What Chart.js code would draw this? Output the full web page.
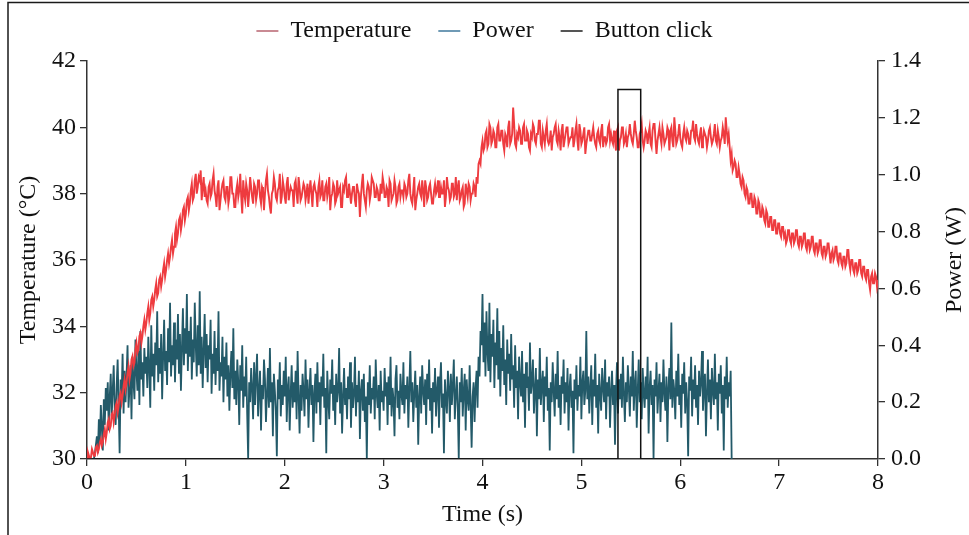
<!DOCTYPE html>
<html>
<head>
<meta charset="utf-8">
<script src="https://cdn.jsdelivr.net/npm/chart.js@4.4.1/dist/chart.umd.min.js"></script>
<style>
  html, body { margin: 0; padding: 0; background: #fff; }
  #wrap { width: 969px; height: 535px; position: relative; }
</style>
</head>
<body>
<div id="wrap"><canvas id="c" width="969" height="535"></canvas></div>
<script>
// ---- Data ----
const SAMPLE_STEP = 0.01; // seconds between samples

// Temperature (°C), one row = 0.1 s, from 0 to 8 s
const temperatureC = [
  30.0, 30.2, 30.1, 29.9, 30.05, 30.3, 30.2, 30.1, 30.1, 30.35,
  30.4, 30.2, 30.3, 30.5, 30.6, 30.4, 30.5, 30.75, 30.9, 30.6,
  30.8, 31.1, 31.2, 30.9, 31.0, 31.35, 31.4, 31.1, 31.3, 31.6,
  31.7, 31.4, 31.6, 31.9, 32.0, 31.7, 31.9, 32.2, 32.4, 32.1,
  32.3, 32.6, 32.8, 32.4, 32.6, 33.0, 33.1, 32.8, 32.9, 33.3,
  33.5, 33.2, 33.3, 33.7, 33.8, 33.5, 33.7, 34.0, 34.2, 33.9,
  34.1, 34.4, 34.6, 34.2, 34.4, 34.8, 34.9, 34.6, 34.8, 35.1,
  35.3, 34.9, 35.0, 35.4, 35.5, 35.2, 35.4, 35.7, 35.9, 35.5,
  35.7, 36.0, 36.2, 35.9, 36.1, 36.4, 36.6, 36.2, 36.4, 36.8,
  37.0, 36.6, 36.8, 37.2, 37.3, 36.9, 37.1, 37.5, 37.6, 37.2,
  37.4, 37.8, 37.9, 37.5, 37.7, 38.1, 38.3, 37.8, 37.9, 38.4,
  38.6, 38.0, 38.2, 38.5, 38.4, 38.7, 37.8, 38.2, 38.5, 37.9,
  38.1, 37.8, 37.7, 38.2, 38.3, 37.9, 38.0, 38.4, 38.6, 38.1,
  37.9, 37.6, 38.2, 38.4, 37.5, 37.8, 38.1, 38.3, 38.4, 37.9,
  37.8, 38.2, 38.2, 37.7, 37.9, 38.5, 38.5, 38.0, 38.0, 37.6,
  37.6, 38.1, 38.3, 37.9, 38.1, 38.6, 37.9, 37.4, 38.4, 38.0,
  37.8, 38.3, 38.1, 37.6, 38.0, 38.5, 38.2, 37.9, 37.7, 38.3,
  38.2, 37.8, 38.0, 38.4, 38.4, 37.9, 37.7, 38.2, 38.1, 37.5,
  38.0, 38.4, 38.6, 38.1, 37.9, 37.6, 37.4, 38.0, 38.1, 38.5,
  38.3, 37.9, 37.8, 38.1, 38.2, 38.6, 37.7, 37.9, 38.4, 38.2,
  37.9, 37.7, 38.3, 38.5, 37.8, 38.0, 38.2, 38.1, 38.1, 37.6,
  38.3, 38.4, 38.0, 37.7, 38.5, 38.2, 37.8, 37.9, 38.1, 38.3,
  38.2, 37.8, 38.0, 38.3, 37.7, 38.1, 38.4, 38.0, 37.6, 38.2,
  38.3, 38.1, 38.0, 37.6, 38.2, 38.4, 37.9, 38.0, 38.4, 37.8,
  37.8, 38.2, 38.3, 37.9, 38.1, 38.5, 37.5, 37.9, 38.0, 38.3,
  38.2, 37.7, 37.8, 38.4, 38.0, 38.1, 38.2, 37.6, 37.6, 38.2,
  38.1, 38.4, 38.5, 37.9, 37.9, 38.3, 38.0, 37.7, 38.0, 38.2,
  38.2, 37.8, 37.6, 38.3, 38.1, 38.0, 37.3, 37.9, 38.3, 38.6,
  38.0, 37.8, 37.6, 38.1, 38.3, 38.2, 37.8, 38.0, 38.5, 38.4,
  38.3, 37.9, 37.9, 38.2, 38.1, 37.8, 37.8, 38.3, 38.0, 38.5,
  38.3, 37.9, 37.9, 38.2, 38.1, 37.6, 38.4, 38.3, 37.8, 37.9,
  38.0, 38.4, 38.2, 37.7, 37.8, 38.2, 38.3, 37.9, 38.1, 38.1,
  37.9, 38.3, 38.2, 37.9, 38.0, 38.4, 38.6, 38.0, 37.8, 37.7,
  38.1, 38.5, 37.5, 37.8, 38.0, 38.2, 38.3, 38.0, 37.9, 38.4,
  38.1, 37.6, 38.4, 38.2, 37.8, 37.9, 38.2, 38.3, 38.0, 37.7,
  37.7, 38.1, 38.3, 38.0, 38.1, 38.4, 37.9, 37.9, 38.2, 38.0,
  38.0, 38.4, 37.6, 37.9, 38.5, 38.2, 38.1, 37.8, 37.9, 38.3,
  38.3, 37.9, 38.0, 38.5, 37.8, 38.2, 38.4, 37.8, 37.9, 38.1,
  38.2, 37.6, 37.7, 38.3, 38.1, 37.9, 38.3, 38.2, 37.8, 38.0,
  38.0, 38.3, 38.2, 37.9, 38.5, 38.3, 38.9, 39.0, 38.9, 39.4,
  39.6, 39.3, 39.4, 39.8, 39.9, 39.4, 39.5, 40.1, 40.0, 39.5,
  39.6, 39.9, 39.8, 39.4, 39.4, 40.0, 40.1, 39.6, 39.6, 39.9,
  39.9, 39.5, 39.3, 39.8, 39.7, 39.4, 40.0, 40.2, 39.5, 39.6,
  39.8, 40.6, 40.1, 39.5, 39.4, 39.8, 39.7, 40.0, 39.9, 39.5,
  39.5, 40.0, 40.1, 39.6, 39.6, 39.9, 39.8, 39.4, 39.3, 39.8,
  39.7, 40.1, 40.0, 39.6, 39.5, 39.8, 39.8, 40.2, 40.2, 39.5,
  39.4, 39.9, 39.7, 39.5, 39.9, 40.1, 39.6, 39.5, 39.6, 39.9,
  39.3, 39.7, 39.8, 40.0, 40.1, 39.6, 39.5, 39.9, 39.7, 39.3,
  39.9, 40.1, 39.4, 39.6, 39.8, 40.0, 40.0, 39.5, 39.6, 39.7,
  39.7, 40.0, 39.4, 39.6, 39.9, 40.1, 39.6, 39.3, 40.1, 39.9,
  39.5, 39.6, 39.8, 40.0, 39.2, 39.5, 39.7, 39.9, 39.9, 39.6,
  39.6, 39.8, 40.0, 39.7, 39.5, 39.4, 39.8, 39.9, 39.6, 39.5,
  39.9, 40.1, 39.4, 39.7, 39.7, 39.5, 39.6, 40.0, 40.1, 39.6,
  39.8, 39.6, 39.5, 39.9, 39.6, 39.3, 39.9, 40.0, 39.3, 39.6,
  39.7, 40.0, 40.0, 39.5, 39.6, 39.8, 39.4, 39.7, 39.8, 40.1,
  39.8, 39.6, 39.5, 39.8, 40.2, 39.9, 39.7, 39.4, 39.4, 39.8,
  39.9, 40.1, 39.6, 39.4, 39.6, 39.9, 39.8, 39.5, 39.8, 40.0,
  39.5, 39.4, 39.9, 40.1, 40.1, 39.6, 39.2, 39.6, 39.8, 40.0,
  39.7, 39.5, 40.0, 39.8, 39.5, 39.6, 39.7, 40.0, 39.9, 39.3,
  39.9, 40.0, 39.6, 39.4, 40.3, 39.9, 39.5, 39.6, 39.8, 40.1,
  39.7, 39.5, 39.4, 39.8, 40.0, 39.7, 39.6, 39.9, 39.8, 39.5,
  39.5, 39.9, 39.9, 40.2, 39.7, 39.6, 40.1, 39.8, 39.6, 39.5,
  39.8, 40.0, 39.4, 39.6, 39.9, 39.8, 39.7, 39.4, 39.6, 39.9,
  40.0, 39.7, 39.5, 39.6, 39.8, 40.1, 39.6, 39.5, 39.9, 39.7,
  39.4, 39.6, 39.7, 40.0, 39.8, 39.5, 40.3, 39.9, 39.6, 39.8,
  39.4, 39.0, 39.2, 38.7, 38.8, 39.0, 38.9, 38.5, 38.5, 38.8,
  38.6, 38.3, 38.2, 38.5, 38.4, 38.0, 37.9, 38.2, 38.1, 37.7,
  37.7, 38.0, 38.0, 37.6, 37.6, 37.9, 37.8, 37.4, 37.4, 37.8,
  37.7, 37.3, 37.3, 37.6, 37.5, 37.2, 37.1, 37.5, 37.4, 37.0,
  37.0, 37.3, 37.3, 36.9, 36.9, 37.2, 37.2, 36.8, 36.8, 37.1,
  37.1, 36.8, 36.7, 37.0, 37.0, 36.7, 36.8, 36.5, 36.6, 36.9,
  36.9, 36.6, 36.5, 36.8, 36.8, 36.5, 36.6, 36.9, 36.9, 36.5,
  36.4, 36.7, 36.7, 36.4, 36.5, 36.8, 36.8, 36.4, 36.3, 36.6,
  36.6, 36.3, 36.4, 36.7, 36.7, 36.3, 36.2, 36.5, 36.5, 36.2,
  36.3, 36.6, 36.6, 36.2, 36.1, 36.4, 36.4, 36.1, 36.2, 36.5,
  36.5, 36.2, 35.9, 36.2, 36.3, 36.0, 36.1, 36.4, 36.4, 36.0,
  35.9, 36.2, 36.2, 35.9, 35.8, 36.1, 36.1, 35.8, 35.9, 36.3,
  36.3, 35.9, 35.7, 36.0, 36.0, 35.7, 35.6, 35.9, 35.9, 35.6,
  35.7, 36.0, 36.0, 35.6, 35.5, 35.8, 35.8, 35.5, 35.4, 35.7,
  35.7, 35.3, 35.1, 35.5, 35.6, 35.3, 35.3, 35.6, 35.5, 35.2,
  35.4
];

// Power (W), one row = 0.1 s, from 0 to 6.52 s
const powerW = [
  0, 0, 0, 0, 0, 0, 0, 0, 0.02, 0.05,
  0.08, 0.02, 0.14, 0.06, 0.19, 0.11, 0.03, 0.21, 0.12, 0.25,
  0.17, 0.27, 0.10, 0.22, 0.30, 0.15, 0.24, 0.33, 0.18, 0.12,
  0.26, 0.35, 0.19, 0.02, 0.28, 0.22, 0.37, 0.16, 0.31, 0.20,
  0.29, 0.40, 0.18, 0.25, 0.33, 0.14, 0.36, 0.27, 0.21, 0.42,
  0.31, 0.24, 0.38, 0.19, 0.45, 0.28, 0.34, 0.22, 0.39, 0.30,
  0.36, 0.25, 0.43, 0.32, 0.18, 0.47, 0.29, 0.37, 0.24, 0.41,
  0.33, 0.52, 0.27, 0.39, 0.30, 0.44, 0.21, 0.36, 0.49, 0.31,
  0.38, 0.26, 0.46, 0.34, 0.55, 0.29, 0.40, 0.33, 0.48, 0.27,
  0.42, 0.35, 0.51, 0.30, 0.44, 0.24, 0.39, 0.53, 0.33, 0.46,
  0.37, 0.58, 0.31, 0.45, 0.36, 0.50, 0.28, 0.42, 0.34, 0.55,
  0.40, 0.29, 0.47, 0.33, 0.59, 0.30, 0.43, 0.25, 0.38, 0.51,
  0.32, 0.44, 0.27, 0.40, 0.35, 0.49, 0.23, 0.37, 0.30, 0.45,
  0.26, 0.39, 0.31, 0.52, 0.24, 0.34, 0.29, 0.43, 0.20, 0.36,
  0.28, 0.41, 0.22, 0.33, 0.17, 0.30, 0.38, 0.25, 0.46, 0.21,
  0.31, 0.19, 0.35, 0.27, 0.12, 0.33, 0.24, 0.40, 0.18, 0.29,
  0.22, 0.36, 0.16, 0.00, 0.27, 0.20, 0.32, 0.25, 0.14, 0.34,
  0.19, 0.29, 0.37, 0.15, 0.24, 0.31, 0.10, 0.26, 0.21, 0.35,
  0.28, 0.13, 0.23, 0.32, 0.18, 0.39, 0.20, 0.27, 0.08, 0.30,
  0.24, 0.17, 0.01, 0.28, 0.21, 0.34, 0.15, 0.26, 0.19, 0.31,
  0.22, 0.36, 0.13, 0.25, 0.29, 0.10, 0.23, 0.33, 0.18, 0.27,
  0.20, 0.31, 0.14, 0.38, 0.22, 0.09, 0.26, 0.17, 0.30, 0.24,
  0.15, 0.35, 0.21, 0.28, 0.11, 0.24, 0.32, 0.19, 0.26, 0.06,
  0.23, 0.30, 0.16, 0.34, 0.20, 0.27, 0.12, 0.29, 0.22, 0.37,
  0.18, 0.25, 0.02, 0.31, 0.21, 0.14, 0.28, 0.23, 0.35, 0.17,
  0.26, 0.12, 0.30, 0.20, 0.24, 0.39, 0.16, 0.27, 0.09, 0.22,
  0.32, 0.19, 0.25, 0.14, 0.29, 0.21, 0.34, 0.11, 0.27, 0.18,
  0.23, 0.36, 0.15, 0.26, 0.20, 0.31, 0.07, 0.24, 0.28, 0.17,
  0.30, 0.13, 0.22, 0.00, 0.27, 0.19, 0.33, 0.16, 0.25, 0.21,
  0.29, 0.14, 0.35, 0.23, 0.18, 0.26, 0.10, 0.31, 0.20, 0.24,
  0.17, 0.32, 0.22, 0.27, 0.12, 0.29, 0.19, 0.36, 0.15, 0.25,
  0.21, 0.08, 0.28, 0.33, 0.18, 0.24, 0.14, 0.30, 0.23, 0.19,
  0.34, 0.16, 0.26, 0.21, 0.29, 0.11, 0.25, 0.38, 0.20, 0.27,
  0.13, 0.23, 0.31, 0.18, 0.26, 0.05, 0.22, 0.29, 0.16, 0.33,
  0.24, 0.19, 0.28, 0.12, 0.30, 0.21, 0.35, 0.17, 0.25, 0.09,
  0.27, 0.20, 0.32, 0.15, 0.24, 0.29, 0.11, 0.26, 0.34, 0.18,
  0.23, 0.02, 0.28, 0.21, 0.16, 0.31, 0.25, 0.13, 0.30, 0.19,
  0.26, 0.35, 0.14, 0.22, 0.29, 0.18, 0.00, 0.27, 0.20, 0.32,
  0.15, 0.24, 0.30, 0.10, 0.28, 0.21, 0.17, 0.33, 0.19, 0.04,
  0.22, 0.27, 0.13, 0.25, 0.31, 0.18, 0.36, 0.29, 0.45, 0.40,
  0.58, 0.34, 0.48, 0.29, 0.52, 0.38, 0.31, 0.55, 0.27, 0.44,
  0.36, 0.49, 0.25, 0.41, 0.33, 0.53, 0.28, 0.45, 0.22, 0.39,
  0.31, 0.47, 0.26, 0.35, 0.19, 0.42, 0.30, 0.37, 0.24, 0.44,
  0.28, 0.33, 0.18, 0.40, 0.25, 0.31, 0.14, 0.36, 0.27, 0.22,
  0.38, 0.20, 0.30, 0.11, 0.34, 0.25, 0.29, 0.17, 0.41, 0.23,
  0.27, 0.35, 0.16, 0.24, 0.32, 0.08, 0.28, 0.21, 0.39, 0.19,
  0.26, 0.31, 0.13, 0.29, 0.22, 0.36, 0.17, 0.25, 0.03, 0.27,
  0.20, 0.34, 0.24, 0.15, 0.30, 0.21, 0.38, 0.18, 0.26, 0.12,
  0.29, 0.23, 0.35, 0.16, 0.27, 0.20, 0.32, 0.10, 0.25, 0.30,
  0.18, 0.24, 0.02, 0.28, 0.21, 0.33, 0.17, 0.26, 0.22, 0.36,
  0.14, 0.27, 0.31, 0.19, 0.24, 0.45, 0.21, 0.29, 0.16, 0.25,
  0.33, 0.12, 0.28, 0.22, 0.37, 0.18, 0.26, 0.09, 0.30, 0.23,
  0.17, 0.32, 0.25, 0.20, 0.35, 0.14, 0.27, 0.22, 0.29, 0.11,
  0.24, 0.31, 0.19, 0.26, 0.05, 0.23, 0.34, 0.16, 0.28, 0.21,
  0.30, 0.18, 0.36, 0.23, 0.13, 0.27, 0.20, 0.33, 0.25, 0.15,
  0.29, 0.22, 0.38, 0.17, 0.26, 0.31, 0.11, 0.24, 0.35, 0.20,
  0.27, 0.14, 0.32, 0.23, 0.18, 0.29, 0.21, 0.36, 0.09, 0.25,
  0.31, 0.19, 0.26, 0.00, 0.28, 0.22, 0.34, 0.16, 0.24, 0.30,
  0.13, 0.27, 0.20, 0.35, 0.23, 0.17, 0.29, 0.06, 0.25, 0.32,
  0.21, 0.48, 0.18, 0.28, 0.24, 0.14, 0.31, 0.22, 0.37, 0.19,
  0.26, 0.11, 0.30, 0.23, 0.34, 0.16, 0.27, 0.20, 0.01, 0.29,
  0.24, 0.36, 0.15, 0.28, 0.21, 0.33, 0.18, 0.26, 0.12, 0.31,
  0.22, 0.27, 0.38, 0.17, 0.25, 0.30, 0.08, 0.23, 0.35, 0.20,
  0.28, 0.14, 0.32, 0.24, 0.19, 0.37, 0.21, 0.27, 0.10, 0.30,
  0.23, 0.33, 0.16, 0.26, 0.03, 0.29, 0.21, 0.36, 0.18, 0.27,
  0.22, 0.31, 0
];

// Button click pulse (W scale)
const buttonTimes = [0, 5.37, 5.37, 5.60, 5.60, 6.5];
const buttonPower = [0, 0, 1.30, 1.30, 0, 0];

// Axis tick settings
const xTickStep = 1, xMin = 0, xMax = 8;
const tempMin = 30, tempMax = 42, tempStep = 2;
const powMin = 0, powMax = 1.4, powStep = 0.2;

const seriesLabels = ['Temperature', 'Power', 'Button click'];

// ---- Build point lists ----
const toPoints = (vals) => vals.map((v, i) => ({ x: +(i * SAMPLE_STEP).toFixed(3), y: v }));
const tempPts = toPoints(temperatureC);
const powPts = toPoints(powerW);
const btnPts = buttonTimes.map((t, i) => ({ x: t, y: buttonPower[i] }));

const FONT = '"Liberation Serif", "Times New Roman", serif';
Chart.defaults.font.family = FONT;
Chart.defaults.font.size = 24;
Chart.defaults.color = '#111';

const legendSwatch = ['#c98a93', '#6f9ab5', '#555555'];

const legendHeightPlugin = {
  id: 'legendHeight',
  afterInit(chart) {
    const lg = chart.legend;
    if (!lg) return;
    const orig = lg.fit;
    lg.fit = function () { orig.call(this); this.height = 69; };
  }
};

const framePlugin = {
  id: 'frame',
  afterDraw(chart) {
    const ctx = chart.ctx;
    ctx.save();
    ctx.strokeStyle = '#1a1a1a';
    ctx.lineWidth = 1.5;
    ctx.beginPath();
    ctx.moveTo(8, 535);
    ctx.lineTo(8, 2.5);
    ctx.lineTo(969, 2.5);
    ctx.stroke();
    // right axis title, reading bottom to top
    ctx.translate(955, 260);
    ctx.rotate(-Math.PI / 2);
    ctx.font = '24px ' + FONT;
    ctx.fillStyle = '#111';
    ctx.textAlign = 'center';
    ctx.textBaseline = 'middle';
    ctx.fillText('Power (W)', 0, 0);
    ctx.restore();
  }
};

const axisColor = '#333';

new Chart(document.getElementById('c'), {
  type: 'line',
  data: {
    datasets: [
      { label: seriesLabels[0], data: tempPts, yAxisID: 'y', borderColor: '#ee3b3f',
        borderWidth: 1.9, pointRadius: 0, order: 1 },
      { label: seriesLabels[1], data: powPts, yAxisID: 'y1', borderColor: '#235a69',
        borderWidth: 1.8, pointRadius: 0, order: 2 },
      { label: seriesLabels[2], data: btnPts, yAxisID: 'y1', borderColor: '#111111',
        borderWidth: 1.5, pointRadius: 0, order: 0 }
    ]
  },
  options: {
    responsive: false,
    animation: false,
    parsing: true,
    layout: { padding: { top: -8, left: 0, right: 0, bottom: 0 } },
    plugins: {
      tooltip: { enabled: false },
      legend: {
        display: true,
        position: 'top',
        labels: {
          usePointStyle: true,
          pointStyle: 'line',
          pointStyleWidth: 22,
          boxHeight: 24,
          padding: 27,
          font: { size: 24, family: FONT },
          color: '#111',
          generateLabels(chart) {
            return chart.data.datasets.map((ds, i) => ({
              text: ds.label,
              strokeStyle: legendSwatch[i],
              fillStyle: legendSwatch[i],
              lineWidth: 2,
              pointStyle: 'line',
              hidden: false,
              datasetIndex: i,
              fontColor: '#111'
            }));
          }
        }
      }
    },
    scales: {
      x: {
        type: 'linear', min: xMin, max: xMax,
        ticks: { stepSize: xTickStep, padding: 2, color: '#111', font: { size: 24 } },
        grid: { drawOnChartArea: false, drawTicks: true, tickLength: 7, color: axisColor, lineWidth: 1.3 },
        border: { display: true, color: axisColor, width: 1.5 },
        title: { display: true, text: 'Time (s)', color: '#111', font: { size: 24 }, padding: { top: 0, bottom: 6 } },
        afterFit(s) { s.height = 76; }
      },
      y: {
        type: 'linear', position: 'left', min: tempMin, max: tempMax,
        ticks: { stepSize: tempStep, padding: 4, color: '#111', font: { size: 24 } },
        grid: { drawOnChartArea: false, drawTicks: true, tickLength: 7, color: axisColor, lineWidth: 1.3 },
        border: { display: true, color: axisColor, width: 1.5 },
        title: { display: true, text: 'Temperature (°C)', color: '#111', font: { size: 24 }, padding: { top: 14, bottom: 0 } },
        afterFit(s) { s.width = 87; }
      },
      y1: {
        type: 'linear', position: 'right', min: powMin, max: powMax,
        ticks: { stepSize: powStep, padding: 6, color: '#111', font: { size: 24 },
          callback: (v) => Number(v).toFixed(1) },
        grid: { drawOnChartArea: false, drawTicks: true, tickLength: 7, color: axisColor, lineWidth: 1.3 },
        border: { display: true, color: axisColor, width: 1.5 },
        title: { display: false },
        afterFit(s) { s.width = 91; }
      }
    }
  },
  plugins: [legendHeightPlugin, framePlugin]
});
</script>
</body>
</html>
